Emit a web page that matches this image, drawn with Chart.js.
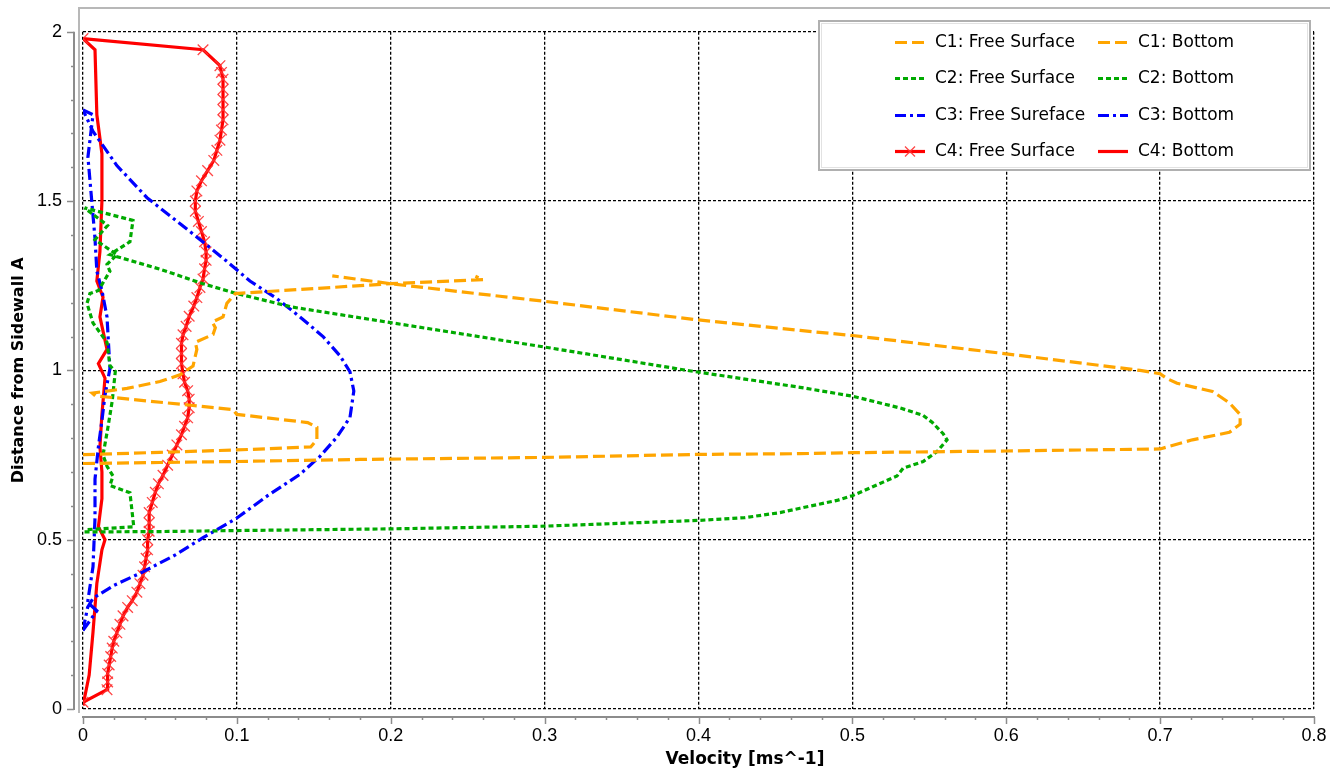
<!DOCTYPE html>
<html lang="en">
<head>
    <meta charset="UTF-8">
    <title>Velocity profiles</title>
    <script src="https://cdn.jsdelivr.net/npm/chart.js"></script>
    <style>
        html, body { margin: 0; padding: 0; background: #fff; }
        #wrap { width: 1343px; height: 776px; }
    </style>
</head>
<body>
    <div id="wrap"><canvas id="profileChart" width="1343" height="776"></canvas></div>
    <script>
        // Axis ticks
        const xTicks = [0, 0.1, 0.2, 0.3, 0.4, 0.5, 0.6, 0.7, 0.8];
        const yTicks = [0, 0.5, 1, 1.5, 2];

        // C1 (orange)
        const c1SurfX = [0, 0.05, 0.1, 0.18, 0.3, 0.4, 0.466, 0.5, 0.6, 0.7, 0.721, 0.745, 0.752, 0.752, 0.745, 0.734, 0.711, 0.704, 0.7, 0.687, 0.6, 0.5, 0.466, 0.4, 0.3, 0.271, 0.2, 0.162];
        const c1SurfY = [0.725, 0.728, 0.731, 0.737, 0.743, 0.752, 0.754, 0.757, 0.762, 0.768, 0.795, 0.817, 0.841, 0.87, 0.904, 0.938, 0.962, 0.977, 0.99, 1.0, 1.049, 1.103, 1.118, 1.149, 1.204, 1.219, 1.256, 1.279];
        const c1BotX = [0, 0.05, 0.1, 0.148, 0.152, 0.152, 0.146, 0.1, 0.0975, 0.07, 0.008, 0.006, 0.0286, 0.05, 0.063, 0.0715, 0.074, 0.073, 0.0845, 0.086, 0.084, 0.091, 0.0935, 0.099, 0.2, 0.26, 0.255];
        const c1BotY = [0.751, 0.758, 0.765, 0.774, 0.795, 0.832, 0.846, 0.87, 0.884, 0.897, 0.925, 0.933, 0.947, 0.967, 0.987, 1.013, 1.062, 1.083, 1.106, 1.126, 1.143, 1.158, 1.198, 1.227, 1.256, 1.268, 1.278];

        // C2 (green)
        const c2SurfX = [0.001, 0.05, 0.1, 0.2, 0.3, 0.4, 0.43, 0.453, 0.466, 0.49, 0.5, 0.52, 0.529, 0.533, 0.546, 0.555, 0.5615, 0.559, 0.552, 0.546, 0.531, 0.5, 0.466, 0.394, 0.3, 0.2, 0.136, 0.099, 0.078, 0.05, 0.0175, 0.0305, 0.0325, 0.001];
        const c2SurfY = [0.523, 0.524, 0.527, 0.532, 0.54, 0.557, 0.565, 0.58, 0.593, 0.616, 0.63, 0.67, 0.688, 0.711, 0.731, 0.76, 0.795, 0.813, 0.846, 0.867, 0.889, 0.924, 0.95, 0.999, 1.069, 1.141, 1.187, 1.228, 1.256, 1.299, 1.342, 1.38, 1.443, 1.48];
        const c2BotX = [0.003, 0.033, 0.0305, 0.0175, 0.0195, 0.0156, 0.013, 0.016, 0.019, 0.021, 0.0175, 0.0156, 0.0065, 0.0026, 0.0045, 0.01, 0.0175, 0.0156, 0.022, 0.0078, 0.016, 0.001];
        const c2BotY = [0.53, 0.538, 0.639, 0.66, 0.688, 0.717, 0.75, 0.826, 0.91, 0.997, 1.014, 1.083, 1.14, 1.198, 1.227, 1.236, 1.293, 1.313, 1.342, 1.386, 1.428, 1.48];

        // C3 (blue)
        const c3SurfX = [0, 0.003, 0.0065, 0.02, 0.039, 0.06, 0.078, 0.1, 0.12, 0.141, 0.154, 0.165, 0.1735, 0.176, 0.1735, 0.167, 0.156, 0.141, 0.126, 0.1085, 0.0935, 0.0715, 0.0416, 0.022, 0.0065, 0];
        const c3SurfY = [0.232, 0.3, 0.327, 0.365, 0.405, 0.455, 0.506, 0.564, 0.63, 0.693, 0.746, 0.803, 0.861, 0.939, 0.996, 1.043, 1.1, 1.158, 1.212, 1.264, 1.322, 1.403, 1.51, 1.605, 1.706, 1.769];
        const c3BotX = [0, 0.009, 0.003, 0.0065, 0.0078, 0.0078, 0.01, 0.0123, 0.0143, 0.0175, 0.0156, 0.0123, 0.009, 0.0078, 0.0058, 0.0032, 0.0065, 0];
        const c3BotY = [0.232, 0.29, 0.315, 0.42, 0.564, 0.679, 0.774, 0.852, 0.927, 1.005, 1.158, 1.236, 1.293, 1.389, 1.495, 1.63, 1.755, 1.769];

        // C4 (red)
        const c4SurfX = [0, 0.0156, 0.016, 0.016, 0.017, 0.018, 0.019, 0.02, 0.022, 0.024, 0.026, 0.029, 0.032, 0.035, 0.037, 0.039, 0.04, 0.041, 0.042, 0.042, 0.043, 0.043, 0.043, 0.045, 0.047, 0.049, 0.052, 0.055, 0.058, 0.061, 0.064, 0.066, 0.068, 0.069, 0.069, 0.068, 0.066, 0.065, 0.064, 0.064, 0.064, 0.065, 0.067, 0.069, 0.072, 0.074, 0.076, 0.078, 0.079, 0.08, 0.08, 0.079, 0.077, 0.075, 0.073, 0.073, 0.074, 0.077, 0.081, 0.085, 0.087, 0.089, 0.09, 0.091, 0.091, 0.091, 0.091, 0.091, 0.09, 0.089, 0.078, 0];
        const c4SurfY = [0.02, 0.057, 0.08, 0.105, 0.13, 0.155, 0.18, 0.2, 0.225, 0.25, 0.275, 0.3, 0.32, 0.345, 0.37, 0.395, 0.42, 0.445, 0.47, 0.5, 0.525, 0.55, 0.58, 0.61, 0.64, 0.665, 0.69, 0.72, 0.75, 0.78, 0.81, 0.835, 0.86, 0.89, 0.915, 0.94, 0.965, 0.99, 1.02, 1.05, 1.08, 1.105, 1.13, 1.16, 1.19, 1.215, 1.245, 1.27, 1.3, 1.325, 1.35, 1.38, 1.41, 1.44, 1.47, 1.5, 1.53, 1.56, 1.59, 1.62, 1.65, 1.68, 1.71, 1.74, 1.77, 1.8, 1.83, 1.86, 1.88, 1.9, 1.947, 1.98];
        const c4BotX = [0, 0.004, 0.0065, 0.009, 0.0123, 0.0143, 0.01, 0.0123, 0.0123, 0.011, 0.0123, 0.0143, 0.01, 0.0156, 0.011, 0.013, 0.009, 0.011, 0.0123, 0.0123, 0.009, 0.0078, 0];
        const c4BotY = [0.01, 0.1, 0.227, 0.371, 0.47, 0.5, 0.538, 0.621, 0.7, 0.774, 0.87, 0.977, 1.02, 1.062, 1.158, 1.216, 1.264, 1.351, 1.5, 1.64, 1.755, 1.947, 1.98];

        const ORANGE = '#FFA500';
        const GREEN = '#00AA00';
        const BLUE = '#0000FF';
        const RED = '#FF0000';

        function pts(xs, ys) {
            return xs.map((x, i) => ({ x: x, y: ys[i] }));
        }

        function series(label, xs, ys, color, dash, extra) {
            return Object.assign({
                label: label,
                data: pts(xs, ys),
                borderColor: color,
                backgroundColor: color,
                borderWidth: 3.2,
                borderDash: dash,
                showLine: true,
                fill: false,
                tension: 0,
                pointRadius: 0
            }, extra || {});
        }

        const marker = {
            pointStyle: 'crossRot',
            pointRadius: 7.5,
            pointBorderWidth: 1.3,
            pointBorderColor: 'rgba(255, 50, 50, 0.9)'
        };

        const datasets = [
            series('C1: Free Surface', c1SurfX, c1SurfY, ORANGE, [12, 5]),
            series('C1: Bottom', c1BotX, c1BotY, ORANGE, [12, 5]),
            series('C2: Free Surface', c2SurfX, c2SurfY, GREEN, [5, 3]),
            series('C2: Bottom', c2BotX, c2BotY, GREEN, [5, 3]),
            series('C3: Free Sureface', c3SurfX, c3SurfY, BLUE, [11, 4, 3, 4]),
            series('C3: Bottom', c3BotX, c3BotY, BLUE, [11, 4, 3, 4]),
            series('C4: Free Surface', c4SurfX, c4SurfY, RED, [], marker),
            series('C4: Bottom', c4BotX, c4BotY, RED, [])
        ];

        // frame, offset axes with minor ticks, titles and the boxed legend
        const decorations = {
            id: 'decorations',
            afterDraw(chart) {
                const ctx = chart.ctx;
                const xs = chart.scales.x;
                const ys = chart.scales.y;
                const a = chart.chartArea;
                ctx.save();

                // light grey frame
                ctx.strokeStyle = '#b8b8b8';
                ctx.lineWidth = 2;
                ctx.beginPath();
                ctx.moveTo(79, 713);
                ctx.lineTo(79, 8);
                ctx.lineTo(1330, 8);
                ctx.stroke();

                // left axis
                ctx.strokeStyle = '#8c8c8c';
                ctx.lineWidth = 2;
                ctx.beginPath();
                ctx.moveTo(74, a.top);
                ctx.lineTo(74, a.bottom + 1);
                ctx.stroke();
                ctx.lineWidth = 1.5;
                for (let v = 0; v <= 20; v++) {
                    const py = Math.round(ys.getPixelForValue(v / 10)) + 0.5;
                    const len = v % 5 === 0 ? 7 : 3;
                    ctx.beginPath();
                    ctx.moveTo(74, py);
                    ctx.lineTo(74 - len, py);
                    ctx.stroke();
                }

                // bottom axis
                ctx.lineWidth = 2;
                ctx.beginPath();
                ctx.moveTo(a.left - 1, 717);
                ctx.lineTo(a.right + 1, 717);
                ctx.stroke();
                ctx.lineWidth = 1.5;
                for (let v = 0; v <= 40; v++) {
                    const px = Math.round(xs.getPixelForValue(v / 50)) + 0.5;
                    const len = v % 5 === 0 ? 7 : 3;
                    ctx.beginPath();
                    ctx.moveTo(px, 717);
                    ctx.lineTo(px, 717 + len);
                    ctx.stroke();
                }

                // axis titles
                ctx.fillStyle = '#000';
                ctx.textAlign = 'center';
                ctx.textBaseline = 'middle';
                ctx.font = 'bold 17px "DejaVu Sans"';
                ctx.fillText('Velocity [ms^-1]', 745, 760);
                ctx.save();
                ctx.translate(19, (a.top + a.bottom) / 2);
                ctx.rotate(-Math.PI / 2);
                ctx.font = 'bold 16px "DejaVu Sans"';
                ctx.fillText('Distance from Sidewall A', 0, 0);
                ctx.restore();

                // legend box
                ctx.fillStyle = '#fff';
                ctx.fillRect(818, 20, 493, 151);
                ctx.strokeStyle = '#b0b0b0';
                ctx.lineWidth = 2;
                ctx.strokeRect(819, 21, 491, 149);
                ctx.strokeStyle = '#e2e2e2';
                ctx.lineWidth = 1;
                ctx.strokeRect(821.5, 23.5, 486, 144);

                ctx.font = '17px "DejaVu Sans"';
                ctx.textAlign = 'left';
                chart.data.datasets.forEach((ds, i) => {
                    const row = Math.floor(i / 2);
                    const col = i % 2;
                    const cy = Math.round(42 + row * 36.3) + 0.5;
                    const sx = col === 0 ? 895 : 1098;
                    const tx = col === 0 ? 935 : 1138;
                    ctx.strokeStyle = ds.borderColor;
                    ctx.lineWidth = ds.borderWidth;
                    ctx.setLineDash(ds.borderDash || []);
                    ctx.beginPath();
                    ctx.moveTo(sx, cy);
                    ctx.lineTo(sx + 30, cy);
                    ctx.stroke();
                    ctx.setLineDash([]);
                    if (ds.pointStyle === 'crossRot') {
                        ctx.strokeStyle = ds.pointBorderColor;
                        ctx.lineWidth = 1.3;
                        ctx.beginPath();
                        ctx.moveTo(sx + 10, cy - 5);
                        ctx.lineTo(sx + 20, cy + 5);
                        ctx.moveTo(sx + 10, cy + 5);
                        ctx.lineTo(sx + 20, cy - 5);
                        ctx.stroke();
                    }
                    ctx.fillStyle = '#000';
                    ctx.fillText(ds.label, tx, cy);
                });

                ctx.restore();
            }
        };

        Chart.defaults.font.family = '"Liberation Sans", Arial, sans-serif';
        Chart.defaults.color = '#000';

        new Chart(document.getElementById('profileChart'), {
            type: 'scatter',
            data: { datasets: datasets },
            options: {
                responsive: false,
                animation: false,
                layout: { padding: { top: 15, right: 29, left: 0, bottom: 0 } },
                plugins: {
                    legend: { display: false },
                    tooltip: { enabled: false }
                },
                scales: {
                    x: {
                        type: 'linear',
                        min: 0,
                        max: 0.8,
                        afterBuildTicks: (scale) => { scale.ticks = xTicks.map(v => ({ value: v })); },
                        afterFit: (scale) => { scale.height = 67; },
                        ticks: {
                            font: { family: '"Liberation Sans"', size: 18 },
                            padding: 16,
                            color: '#000',
                            callback: (v) => String(v)
                        },
                        grid: { color: '#000', lineWidth: 1.3, drawTicks: false },
                        border: { display: false, dash: [3, 2] }
                    },
                    y: {
                        type: 'linear',
                        min: 0,
                        max: 2,
                        afterBuildTicks: (scale) => { scale.ticks = yTicks.map(v => ({ value: v })); },
                        afterFit: (scale) => { scale.width = 83; },
                        ticks: {
                            font: { family: '"Liberation Sans"', size: 18 },
                            padding: 21,
                            color: '#000',
                            callback: (v) => String(v)
                        },
                        grid: { color: '#000', lineWidth: 1.3, drawTicks: false },
                        border: { display: false, dash: [3, 2] }
                    }
                }
            },
            plugins: [decorations]
        });
    </script>
</body>
</html>
